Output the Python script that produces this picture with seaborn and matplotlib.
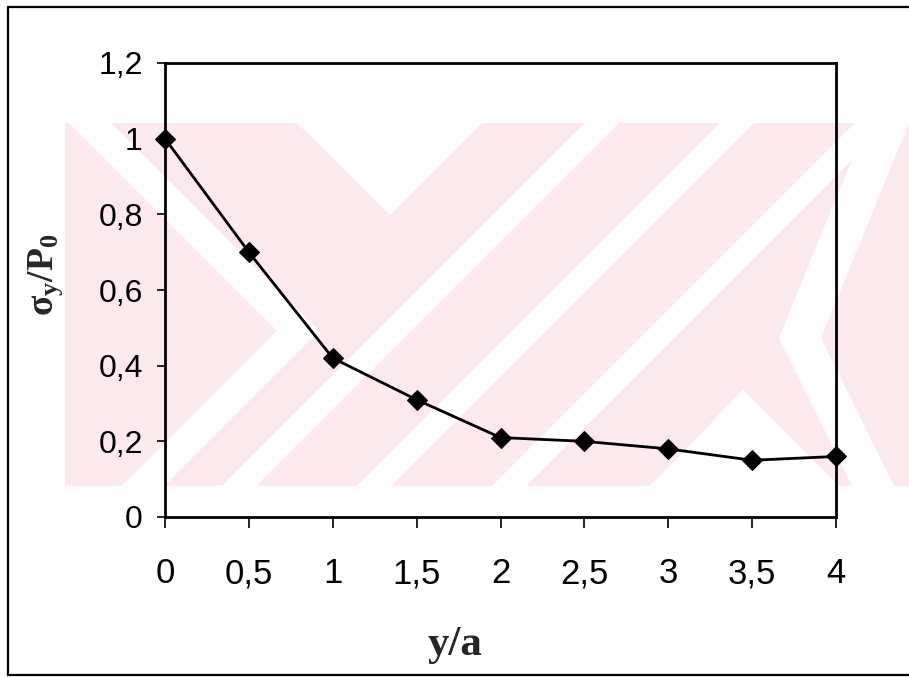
import matplotlib
matplotlib.use("Agg")
import matplotlib.pyplot as plt
from matplotlib.patches import Polygon, Rectangle
from matplotlib.lines import Line2D
import seaborn as sns
import pandas as pd

# Normalised vertical stress along the axis
y_over_a = [0, 0.5, 1, 1.5, 2, 2.5, 3, 3.5, 4]
sigma_ratio = [1.0, 0.70, 0.42, 0.31, 0.21, 0.20, 0.18, 0.15, 0.16]

x_ticks = [0, 0.5, 1, 1.5, 2, 2.5, 3, 3.5, 4]
x_tick_labels = ["0", "0,5", "1", "1,5", "2", "2,5", "3", "3,5", "4"]
y_ticks = [0, 0.2, 0.4, 0.6, 0.8, 1.0, 1.2]
y_tick_labels = ["0", "0,2", "0,4", "0,6", "0,8", "1", "1,2"]

df = pd.DataFrame({"y/a": y_over_a, "sigma": sigma_ratio})

sns.set_theme(style="white")
plt.rcParams["font.family"] = ["Liberation Sans", "DejaVu Sans"]

W, H = 909, 677
fig = plt.figure(figsize=(W / 100, H / 100), dpi=100)

# Background layer in pixel units (origin top-left) for the page decoration
bg = fig.add_axes([0, 0, 1, 1], zorder=-5)
bg.set_xlim(0, W)
bg.set_ylim(H, 0)
bg.axis("off")

pink = "#fce9ed"
band = Rectangle((65, 123), W - 65, 486 - 123, facecolor=pink, edgecolor="none")
bg.add_patch(band)

def cut(points):
    p = Polygon(points, closed=True, facecolor="white", edgecolor="none")
    bg.add_patch(p)
    p.set_clip_path(band)

w = 42
# chevron pointing right on the left side
cut([(69, 123), (69 + w, 123), (277 + w, 331), (122 + w, 486), (122, 486), (277, 331)])
# notch at the top
cut([(297, 123), (482, 123), (390, 215)])
# rising stripes across the middle
ws = 34
for xb in (222, 357, 492):
    cut([(xb, 486), (xb + ws, 486), (xb + ws + 363, 123), (xb + 363, 123)])
# peak at the bottom right
cut([(650, 486), (839, 486), (743, 390)])
# chevron pointing left on the right side
cut([(909, 123), (909 - w, 123), (821 - w, 338), (909 - w, 516), (909, 516), (821, 338)])

# outer frame around the chart
frame_kw = dict(color="black", lw=1.6, transform=fig.transFigure)
fig.add_artist(Line2D([8 / W, 8 / W], [1 - 7 / H, 1 - 675 / H], **frame_kw))
fig.add_artist(Line2D([8 / W, 1.0], [1 - 7 / H, 1 - 7 / H], **frame_kw))
fig.add_artist(Line2D([8 / W, 1.0], [1 - 675 / H, 1 - 675 / H], **frame_kw))

# plot area
left, right, top, bottom = 165, 836, 63, 517
ax = fig.add_axes([left / W, 1 - bottom / H, (right - left) / W, (bottom - top) / H])
ax.set_facecolor("none")

sns.lineplot(data=df, x="y/a", y="sigma", ax=ax, color="black", lw=2.0,
             marker="D", markersize=10.5, markeredgecolor="black",
             markerfacecolor="black", clip_on=False)

ax.set_xlim(0, 4)
ax.set_ylim(0, 1.2)
ax.set_xticks(x_ticks)
ax.set_xticklabels(x_tick_labels, fontsize=25)
ax.set_yticks(y_ticks)
ax.set_yticklabels(y_tick_labels, fontsize=23)
ax.tick_params(axis="x", direction="out", length=8, width=1.2, pad=21,
               bottom=True, colors="black")
ax.tick_params(axis="y", direction="out", length=6, width=1.2, pad=10,
               left=True, colors="black")
for s in ax.spines.values():
    s.set_visible(True)
    s.set_color("black")
    s.set_linewidth(2.0)
ax.set_xlabel("")
ax.set_ylabel("")

serif = ["Liberation Serif", "DejaVu Serif"]
fig.text(455 / W, 1 - 645 / H, "y/a", family=serif, fontweight="bold",
         fontsize=31, ha="center", va="center")
fig.text(46 / W, 1 - 275 / H, r"$\mathregular{σ_y/P_0}$", family=serif,
         fontweight="bold", fontsize=27, ha="center", va="center", rotation=90)

fig.savefig("out.png", dpi=100)
